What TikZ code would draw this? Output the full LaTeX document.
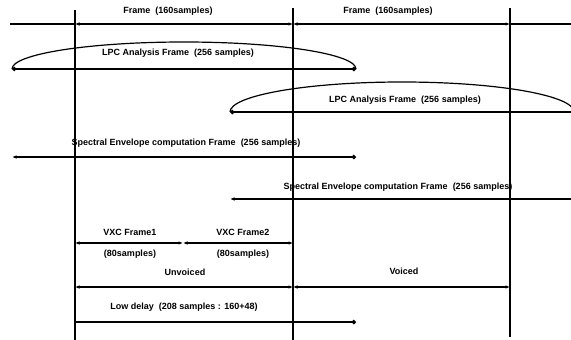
\documentclass[tikz,border=0pt]{standalone}
\usepackage{fontspec}
\setmainfont{Liberation Sans}
\usetikzlibrary{arrows.meta}
\tikzset{
  dotend/.tip ={Circle[length=4.5pt]},
  tipend/.tip ={Latex[length=4.5pt,width=3.5pt]},
  lbl/.style  ={inner sep=0.5pt, font=\fontsize{9}{10.5}\selectfont\bfseries},
  bound/.style={line width=1.5pt, draw=black},
  span/.style ={line width=1.2pt, draw=black},
  dim/.style  ={span, tipend-tipend},
}
\begin{document}
\begin{tikzpicture}[x=1pt,y=-1pt]
\useasboundingbox[fill=white] (0,0) rectangle (571,340);

% frame boundaries
\coordinate (b1t) at (75,10);  \coordinate (b1b) at (75,340);
\coordinate (b2t) at (293,8);  \coordinate (b2b) at (293,340);
\coordinate (b3t) at (510,8);  \coordinate (b3b) at (510,337);
\draw[bound] (b1t) -- (b1b);
\draw[bound] (b2t) -- (b2b);
\draw[bound] (b3t) -- (b3b);

% frames
\coordinate (f0) at (10,24);  \coordinate (fa) at (75,24);
\coordinate (fb) at (293,24); \coordinate (fc) at (510,24);
\coordinate (f1) at (571,24);
\draw[span] (f0) -- (fa);
\draw[dim] (fa) -- (fb);
\draw[dim] (fb) -- (fc);
\draw[span] (fc) -- (f1);
\node[lbl] (frm1) at (168,11) {Frame \ (160samples)};
\node[lbl] (frm2) at (388,11) {Frame \ (160samples)};

% LPC analysis windows
\coordinate (lpa0) at (12,69);  \coordinate (lpa1) at (356,69);
\draw[span, dotend-dotend] (lpa0) -- (lpa1);
\draw[span] (lpa0) arc[start angle=180, end angle=0, x radius=172pt, y radius=27pt];
\node[lbl] (lpcA) at (178,53) {LPC Analysis Frame \ (256 samples)};

\coordinate (lpb0) at (230,112); \coordinate (lpb1) at (571,112);
\draw[span, dotend-] (lpb0) -- (lpb1);
\begin{scope}
  \clip (0,0) rectangle (571,340);
  \draw[span] (lpb0) arc[start angle=180, end angle=0, x radius=172pt, y radius=30pt];
\end{scope}
\node[lbl] (lpcB) at (405,100) {LPC Analysis Frame \ (256 samples)};

% spectral envelope frames
\coordinate (sea0) at (12,157);  \coordinate (sea1) at (356,157);
\draw[span, tipend-dotend] (sea0) -- (sea1);
\node[lbl] (seA) at (186,143) {Spectral Envelope computation Frame \ (256 samples)};

\coordinate (seb0) at (230,199); \coordinate (seb1) at (571,199);
\draw[span, tipend-] (seb0) -- (seb1);
\node[lbl] (seB) at (398,187) {Spectral Envelope computation Frame \ (256 samples)};

% VXC frames
\coordinate (vx0) at (75,243); \coordinate (vxm) at (183,243); \coordinate (vx1) at (293,243);
\draw[dim] (vx0) -- (vxm);
\draw[dim] (vxm) -- (vx1);
\node[lbl] (vxc1) at (130,232) {VXC Frame1};
\node[lbl] (vxc2) at (243,232) {VXC Frame2};
\node[lbl] (smp1) at (130,254) {(80samples)};
\node[lbl] (smp2) at (243,254) {(80samples)};

% unvoiced / voiced
\coordinate (uv0) at (75,287); \coordinate (uv1) at (293,287); \coordinate (vo1) at (510,287);
\draw[dim] (uv0) -- (uv1);
\draw[dim] (uv1) -- (vo1);
\node[lbl] (unv) at (185,272) {Unvoiced};
\node[lbl] (voi) at (404,271) {Voiced};

% low delay
\coordinate (ld0) at (75,322); \coordinate (ld1) at (356,322);
\draw[span, -dotend] (ld0) -- (ld1);
\node[lbl] (ldl) at (184,307) {Low delay \ (208 samples : 160+48)};

\end{tikzpicture}
\end{document}
